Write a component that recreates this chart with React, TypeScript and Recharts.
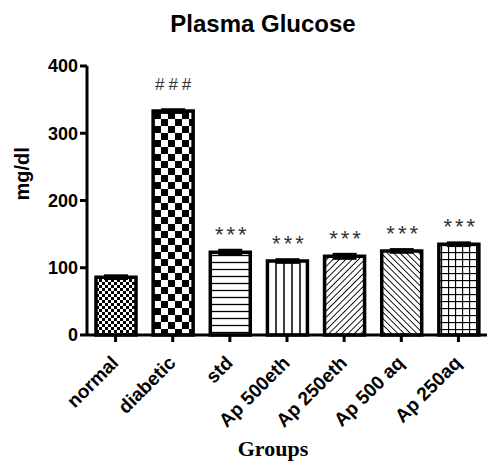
import { Bar, BarChart, Cell, ErrorBar, LabelList, XAxis, YAxis } from 'recharts';

const groups = ['normal', 'diabetic', 'std', 'Ap 500eth', 'Ap 250eth', 'Ap 500 aq', 'Ap 250aq'];
const glucose = [86, 333, 123, 110, 117, 125, 135];
const sem = [2, 2, 3, 2, 3, 2, 2];
const marks = ['', '###', '***', '***', '***', '***', '***'];
const patterns = ['fineCheck', 'bigCheck', 'hLines', 'vLines', 'fwdDiag', 'backDiag', 'grid'];
const yTicks = [0, 100, 200, 300, 400];

const data = groups.map((name, i) => ({ name, value: glucose[i], err: sem[i], mark: marks[i] }));

const FONT = '"Liberation Sans", Arial, sans-serif';

function GroupTick({ x, y, payload }: any) {
  const tx = x + 4;
  const ty = y + 20;
  return (
    <text
      x={tx}
      y={ty}
      transform={`rotate(-45, ${tx}, ${ty})`}
      textAnchor="end"
      fontFamily={FONT}
      fontWeight="bold"
      fontSize={19}
      fill="#000"
    >
      {payload.value}
    </text>
  );
}

function MarkLabel({ x, y, width, value }: any) {
  if (!value) return null;
  const hash = value.startsWith('#');
  return (
    <text
      x={x + width / 2 + 2}
      y={y - (hash ? 21 : 10)}
      textAnchor="middle"
      fontFamily={FONT}
      fontSize={hash ? 17 : 22}
      letterSpacing={hash ? 4 : 3}
      fill="#333"
    >
      {value}
    </text>
  );
}

export default function App() {
  return (
    <div style={{ position: 'absolute', left: 0, top: 0, width: 500, height: 470, background: '#fff' }}>
      <div
        style={{
          position: 'absolute',
          left: 0,
          top: 10,
          width: 526,
          textAlign: 'center',
          fontFamily: FONT,
          fontWeight: 'bold',
          fontSize: 24,
        }}
      >
        Plasma Glucose
      </div>
      <BarChart
        width={500}
        height={470}
        data={data}
        margin={{ top: 66, right: 13, left: 0, bottom: 0 }}
        barSize={40}
      >
        <defs>
          <pattern id="fineCheck" patternUnits="userSpaceOnUse" width={6} height={6}>
            <rect width={6} height={6} fill="#fff" />
            <rect width={3} height={3} fill="#000" />
            <rect x={3} y={3} width={3} height={3} fill="#000" />
          </pattern>
          <pattern id="bigCheck" patternUnits="userSpaceOnUse" width={14} height={14}>
            <rect width={14} height={14} fill="#fff" />
            <rect width={7} height={7} fill="#000" />
            <rect x={7} y={7} width={7} height={7} fill="#000" />
          </pattern>
          <pattern id="hLines" patternUnits="userSpaceOnUse" width={7} height={7}>
            <rect width={7} height={7} fill="#fff" />
            <line x1={0} y1={3.5} x2={7} y2={3.5} stroke="#000" strokeWidth={1.3} />
          </pattern>
          <pattern id="vLines" patternUnits="userSpaceOnUse" width={8} height={8}>
            <rect width={8} height={8} fill="#fff" />
            <line x1={4} y1={0} x2={4} y2={8} stroke="#000" strokeWidth={1.5} />
          </pattern>
          <pattern id="fwdDiag" patternUnits="userSpaceOnUse" width={4.5} height={4.5} patternTransform="rotate(45)">
            <rect width={4.5} height={4.5} fill="#fff" />
            <line x1={0} y1={0} x2={0} y2={4.5} stroke="#000" strokeWidth={1.8} />
          </pattern>
          <pattern id="backDiag" patternUnits="userSpaceOnUse" width={4.5} height={4.5} patternTransform="rotate(-45)">
            <rect width={4.5} height={4.5} fill="#fff" />
            <line x1={0} y1={0} x2={0} y2={4.5} stroke="#000" strokeWidth={1.8} />
          </pattern>
          <pattern id="grid" patternUnits="userSpaceOnUse" width={7} height={7}>
            <rect width={7} height={7} fill="#fff" />
            <line x1={0} y1={0.5} x2={7} y2={0.5} stroke="#000" strokeWidth={1.3} />
            <line x1={0.5} y1={0} x2={0.5} y2={7} stroke="#000" strokeWidth={1.3} />
          </pattern>
        </defs>
        <XAxis
          dataKey="name"
          height={135}
          interval={0}
          tick={<GroupTick />}
          tickSize={7}
          axisLine={{ stroke: '#000', strokeWidth: 3 }}
          tickLine={{ stroke: '#000', strokeWidth: 3 }}
          label={{
            value: 'Groups',
            position: 'insideBottom',
            offset: 14,
            dx: -14,
            fontFamily: '"Liberation Serif", "Times New Roman", serif',
            fontWeight: 'bold',
            fontSize: 22,
            fill: '#000',
          }}
        />
        <YAxis
          width={87}
          domain={[0, 400]}
          ticks={yTicks}
          tickSize={7}
          axisLine={{ stroke: '#000', strokeWidth: 3 }}
          tickLine={{ stroke: '#000', strokeWidth: 3 }}
          tick={{ fontFamily: FONT, fontWeight: 'bold', fontSize: 18, fill: '#000' }}
          label={{
            value: 'mg/dl',
            angle: -90,
            position: 'insideLeft',
            offset: 22,
            fontFamily: FONT,
            fontWeight: 'bold',
            fontSize: 20,
            fill: '#000',
          }}
        />
        <Bar dataKey="value" stroke="#000" strokeWidth={3.5} isAnimationActive={false}>
          {data.map((d, i) => (
            <Cell key={d.name} fill={`url(#${patterns[i]})`} />
          ))}
          <ErrorBar dataKey="err" width={12} stroke="#000" strokeWidth={3} direction="y" />
          <LabelList dataKey="mark" content={<MarkLabel />} />
        </Bar>
      </BarChart>
    </div>
  );
}
